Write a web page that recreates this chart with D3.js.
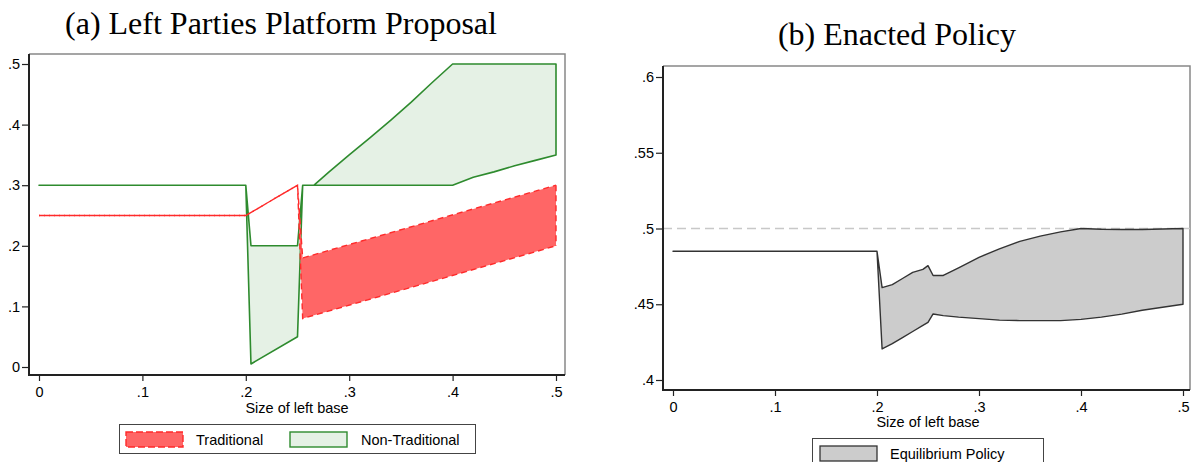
<!DOCTYPE html>
<html>
<head>
<meta charset="utf-8">
<script src="https://cdn.jsdelivr.net/npm/d3@7"></script>
<style>
  body { margin: 0; background: #fff; }
  text { font-family: "Liberation Sans", Arial, sans-serif; fill: #000; }
  .title { font-family: "Liberation Serif", "Times New Roman", serif; font-size: 32px; }
  .tick text { font-size: 14.5px; }
  .tick line { stroke: #222; stroke-width: 1.2; }
</style>
</head>
<body>
<svg id="chart" width="1192" height="462"></svg>
<script>
// ---- data ----
// panel (a): traditional band
var tradX  = [0, 0.2, 0.25, 0.255, 0.5];
var tradHi = [0.25, 0.25, 0.30, 0.18, 0.30];
var tradLo = [0.25, 0.25, 0.30, 0.08, 0.20];

// panel (a): non-traditional band
var ntX  = [0, 0.2, 0.205, 0.25, 0.255, 0.266, 0.28, 0.30, 0.32, 0.34, 0.36, 0.38, 0.40, 0.42, 0.44, 0.46, 0.48, 0.50];
var ntHi = [0.30, 0.30, 0.20, 0.20, 0.30, 0.30, 0.321, 0.350, 0.378, 0.407, 0.437, 0.469, 0.50, 0.50, 0.50, 0.50, 0.50, 0.50];
var ntLo = [0.30, 0.30, 0.005, 0.05, 0.30, 0.30, 0.30, 0.30, 0.30, 0.30, 0.30, 0.30, 0.30, 0.313, 0.322, 0.332, 0.341, 0.35];

// panel (b): equilibrium policy band
var eqX  = [0, 0.2, 0.205, 0.215, 0.225, 0.235, 0.245, 0.25, 0.255, 0.265, 0.28, 0.30, 0.32, 0.34, 0.36, 0.38, 0.40, 0.42, 0.44, 0.46, 0.48, 0.50];
var eqHi = [0.485, 0.485, 0.461, 0.463, 0.467, 0.471, 0.473, 0.4755, 0.469, 0.469, 0.474, 0.481, 0.4865, 0.4915, 0.495, 0.4978, 0.500, 0.4995, 0.4993, 0.4993, 0.4997, 0.500];
var eqLo = [0.485, 0.485, 0.4205, 0.424, 0.428, 0.432, 0.436, 0.438, 0.4436, 0.4425, 0.4415, 0.4405, 0.4395, 0.4392, 0.4392, 0.4392, 0.4400, 0.4415, 0.4435, 0.446, 0.448, 0.450];
var eqRef = 0.5;

// ticks
var xTicks   = [0, 0.1, 0.2, 0.3, 0.4, 0.5];
var aYTicks  = [0, 0.1, 0.2, 0.3, 0.4, 0.5];
var bYTicks  = [0.4, 0.45, 0.5, 0.55, 0.6];
var titles   = ["(a) Left Parties Platform Proposal", "(b) Enacted Policy"];
var xLabel   = "Size of left base";
var legendA  = ["Traditional", "Non-Traditional"];
var legendB  = ["Equilibrium Policy"];

// stata-like labels: .5 instead of 0.5
var fmt = function(d) { return d === 0 ? "0" : d3.format("~g")(d).replace(/^0\./, "."); };

function zipBand(xs, lo, hi) {
    return xs.map(function(x, i) { return {x: x, lo: lo[i], hi: hi[i]}; });
}

var svg = d3.select("#chart");

// ---------- panel (a) ----------
var frameA = {left: 29, right: 565, top: 54, bottom: 375};
var xA = d3.scaleLinear().domain([0, 0.5]).range([39, 556]);
var yA = d3.scaleLinear().domain([0, 0.5]).range([367, 64]);

var gA = svg.append("g");

gA.append("path")
    .attr("d", "M" + frameA.left + "," + frameA.top + "H" + frameA.right + "V" + frameA.bottom)
    .attr("fill", "none").attr("stroke", "#888").attr("stroke-width", 1.5);

var areaA = d3.area()
    .x(function(d) { return xA(d.x); })
    .y0(function(d) { return yA(d.lo); })
    .y1(function(d) { return yA(d.hi); });

gA.append("path")
    .datum(zipBand(ntX, ntLo, ntHi))
    .attr("d", areaA)
    .attr("fill", "#e5f1e5")
    .attr("stroke", "#2e8b2e")
    .attr("stroke-width", 1.6)
    .attr("stroke-linejoin", "round");

// traditional: fill, then each edge dashed with opposite phase,
// so where the edges coincide the line reads as solid
var tradData = zipBand(tradX, tradLo, tradHi);
gA.append("path")
    .datum(tradData)
    .attr("d", areaA)
    .attr("fill", "#ff6666");

var lineHi = d3.line().x(function(d) { return xA(d.x); }).y(function(d) { return yA(d.hi); });
var lineLo = d3.line().x(function(d) { return xA(d.x); }).y(function(d) { return yA(d.lo); });

[lineHi, lineLo].forEach(function(ln, i) {
    gA.append("path")
        .datum(tradData)
        .attr("d", ln)
        .attr("fill", "none")
        .attr("stroke", "#ff2a2a")
        .attr("stroke-width", 1.4)
        .attr("stroke-dasharray", "6,4")
        .attr("stroke-dashoffset", i * 5);
});
// closing edge at x = .5
gA.append("line")
    .attr("x1", xA(tradX[tradX.length - 1])).attr("x2", xA(tradX[tradX.length - 1]))
    .attr("y1", yA(tradHi[tradHi.length - 1])).attr("y2", yA(tradLo[tradLo.length - 1]))
    .attr("stroke", "#ff2a2a").attr("stroke-width", 1.4).attr("stroke-dasharray", "6,4");

var axAx = gA.append("g")
    .attr("transform", "translate(0," + frameA.bottom + ")")
    .call(d3.axisBottom(xA).tickValues(xTicks).tickFormat(fmt).tickSize(6).tickPadding(6));
axAx.select(".domain").remove();

var ayAx = gA.append("g")
    .attr("transform", "translate(" + frameA.left + ",0)")
    .call(d3.axisLeft(yA).tickValues(aYTicks).tickFormat(fmt).tickSize(7).tickPadding(2));
ayAx.select(".domain").remove();

gA.append("path")
    .attr("d", "M" + frameA.left + "," + frameA.top + "V" + frameA.bottom + "H" + frameA.right)
    .attr("fill", "none").attr("stroke", "#222").attr("stroke-width", 2);

gA.append("text")
    .attr("x", 297).attr("y", 413)
    .attr("text-anchor", "middle")
    .style("font-size", "14.5px")
    .text(xLabel);

gA.append("text")
    .attr("class", "title")
    .attr("x", 281).attr("y", 34)
    .attr("text-anchor", "middle")
    .text(titles[0]);

// legend (a)
var legA = gA.append("g");
legA.append("rect")
    .attr("x", 119.5).attr("y", 424.5).attr("width", 356).attr("height", 29)
    .attr("fill", "#fff").attr("stroke", "#444").attr("stroke-width", 1);
legA.append("rect")
    .attr("x", 126).attr("y", 432).attr("width", 57).attr("height", 15)
    .attr("fill", "#ff6666").attr("stroke", "#ff2a2a").attr("stroke-width", 1.4)
    .attr("stroke-dasharray", "7,3");
legA.append("text")
    .attr("x", 196).attr("y", 444.5)
    .style("font-size", "14.5px")
    .text(legendA[0]);
legA.append("rect")
    .attr("x", 290).attr("y", 432).attr("width", 57).attr("height", 15)
    .attr("fill", "#e5f1e5").attr("stroke", "#2e8b2e").attr("stroke-width", 1.4);
legA.append("text")
    .attr("x", 361).attr("y", 444.5)
    .style("font-size", "14.5px")
    .text(legendA[1]);

// ---------- panel (b) ----------
var frameB = {left: 663, right: 1190, top: 66, bottom: 390};
var xB = d3.scaleLinear().domain([0, 0.5]).range([673, 1183]);
var yB = d3.scaleLinear().domain([0.4, 0.6]).range([380, 77]);

var gB = svg.append("g");

gB.append("path")
    .attr("d", "M" + frameB.left + "," + frameB.top + "H" + frameB.right + "V" + frameB.bottom)
    .attr("fill", "none").attr("stroke", "#888").attr("stroke-width", 1.5);

gB.append("line")
    .attr("x1", frameB.left).attr("x2", frameB.right)
    .attr("y1", yB(eqRef)).attr("y2", yB(eqRef))
    .attr("stroke", "#c8c8c8").attr("stroke-width", 1.5)
    .attr("stroke-dasharray", "9,5");

var areaB = d3.area()
    .x(function(d) { return xB(d.x); })
    .y0(function(d) { return yB(d.lo); })
    .y1(function(d) { return yB(d.hi); });

gB.append("path")
    .datum(zipBand(eqX, eqLo, eqHi))
    .attr("d", areaB)
    .attr("fill", "#cccccc")
    .attr("stroke", "#333")
    .attr("stroke-width", 1.4)
    .attr("stroke-linejoin", "round");

var bxAx = gB.append("g")
    .attr("transform", "translate(0," + frameB.bottom + ")")
    .call(d3.axisBottom(xB).tickValues(xTicks).tickFormat(fmt).tickSize(6).tickPadding(6));
bxAx.select(".domain").remove();

var byAx = gB.append("g")
    .attr("transform", "translate(" + frameB.left + ",0)")
    .call(d3.axisLeft(yB).tickValues(bYTicks).tickFormat(fmt).tickSize(7).tickPadding(2));
byAx.select(".domain").remove();

gB.append("path")
    .attr("d", "M" + frameB.left + "," + frameB.top + "V" + frameB.bottom + "H" + frameB.right)
    .attr("fill", "none").attr("stroke", "#222").attr("stroke-width", 2);

gB.append("text")
    .attr("x", 928).attr("y", 427)
    .attr("text-anchor", "middle")
    .style("font-size", "14.5px")
    .text(xLabel);

gB.append("text")
    .attr("class", "title")
    .attr("x", 897).attr("y", 45)
    .attr("text-anchor", "middle")
    .text(titles[1]);

// legend (b), cut off by the bottom edge as in the picture
var legB = gB.append("g");
legB.append("rect")
    .attr("x", 812.5).attr("y", 438.5).attr("width", 231).attr("height", 40)
    .attr("fill", "#fff").attr("stroke", "#444").attr("stroke-width", 1);
legB.append("rect")
    .attr("x", 820).attr("y", 446).attr("width", 57).attr("height", 15)
    .attr("fill", "#cccccc").attr("stroke", "#333").attr("stroke-width", 1.3);
legB.append("text")
    .attr("x", 890).attr("y", 459)
    .style("font-size", "14.5px")
    .text(legendB[0]);
</script>
</body>
</html>
